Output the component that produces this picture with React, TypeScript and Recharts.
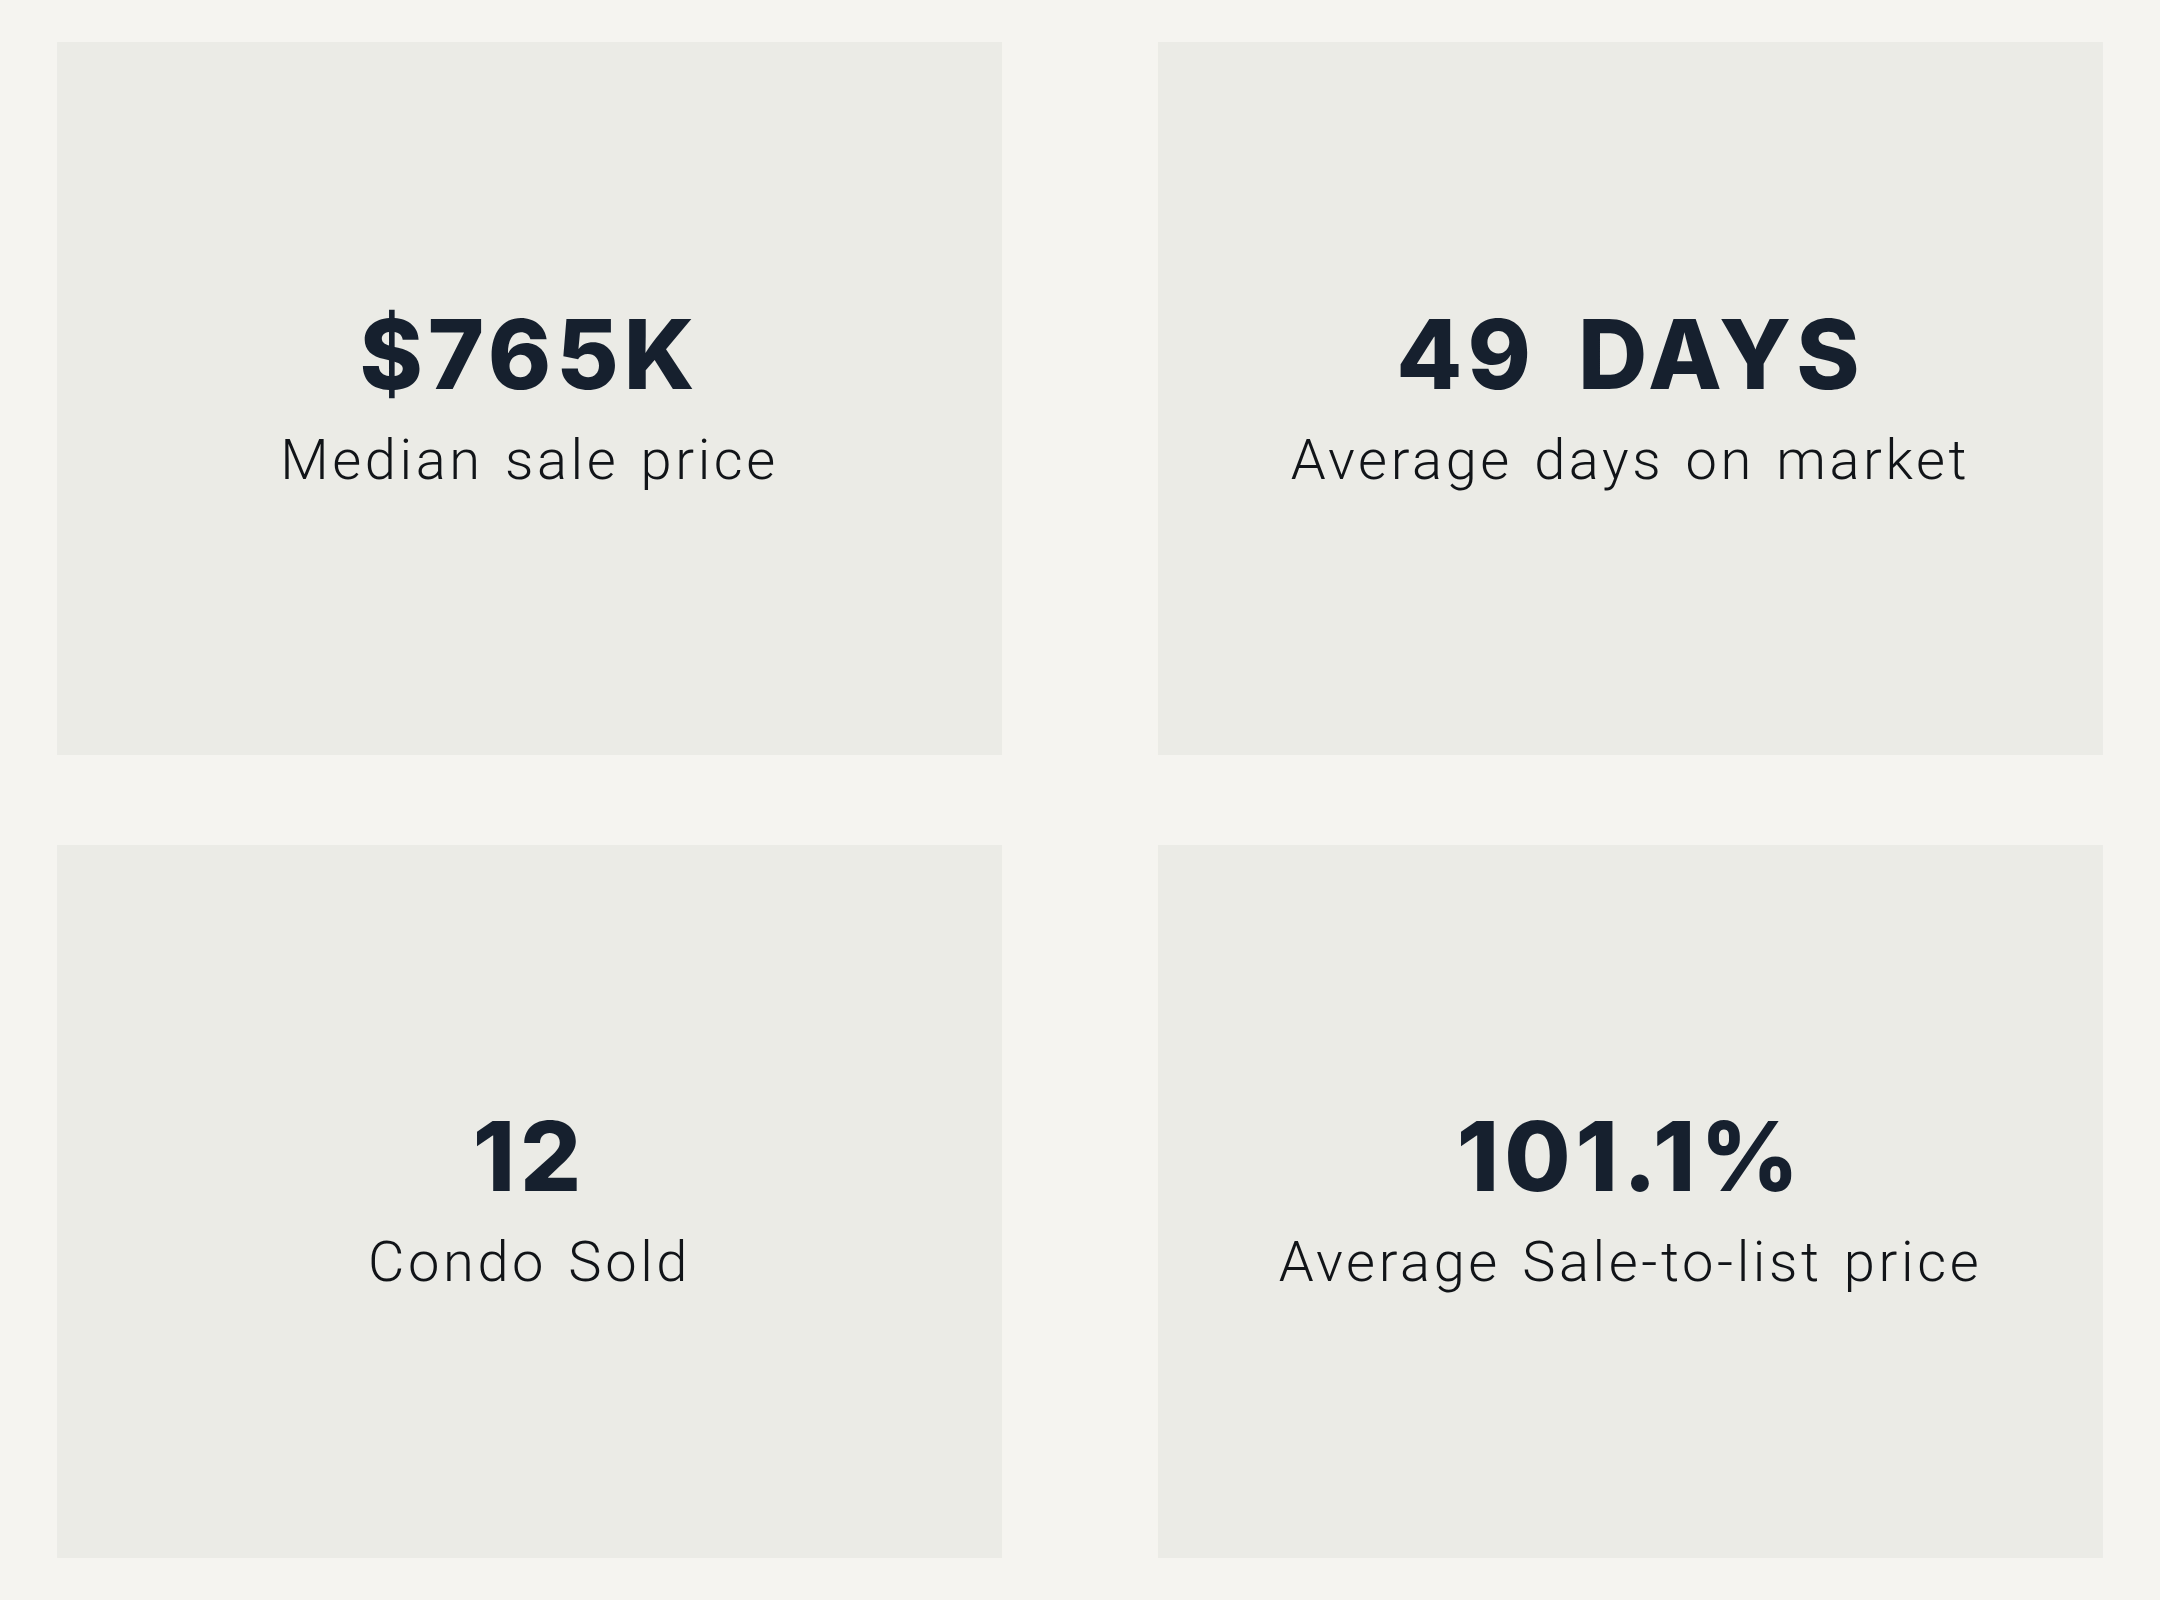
import React from "react";
import { ScatterChart, Scatter, XAxis, YAxis } from "recharts";

const values = ["$765K", "49 DAYS", "12", "101.1%"];
const labels = ["Median sale price", "Average days on market", "Condo Sold", "Average Sale-to-list price"];
const cols = [0, 1, 0, 1];
const rows = [0, 0, 1, 1];

const data = values.map((v, i) => ({ col: cols[i], row: rows[i], value: v, label: labels[i] }));

const CARD_W = 945;
const CARD_H = 713;

const Card = (props: any) => {
  const { cx, cy, payload } = props;
  if (cx == null || cy == null) return null;
  return (
    <g>
      <rect x={cx - CARD_W / 2} y={cy - CARD_H / 2} width={CARD_W} height={CARD_H} fill="#ebebe6" />
      <text
        x={cx}
        y={cy - 10}
        textAnchor="middle"
        fill="#16202e"
        style={{
          fontFamily: "Inter",
          fontWeight: 800,
          fontSize: 96,
          letterSpacing: 5,
          wordSpacing: 16,
          fontFeatureSettings: '"pnum" 1',
        }}
      >
        {payload.value}
      </text>
      <text
        x={cx}
        y={cy + 80}
        textAnchor="middle"
        fill="#111418"
        style={{ fontFamily: "Roboto", fontWeight: 300, fontSize: 56, letterSpacing: 3.6, wordSpacing: 4 }}
      >
        {payload.label}
      </text>
    </g>
  );
};

export default function App() {
  return (
    <div style={{ width: 2160, height: 1600, background: "#f5f4f0" }}>
      <style>{`body{margin:0;background:#f5f4f0}`}</style>
      <ScatterChart width={2160} height={1600} margin={{ top: 0, right: 0, bottom: 0, left: 0 }}>
        <XAxis hide type="number" dataKey="col" domain={[-0.481, 1.481]} />
        <YAxis hide type="number" dataKey="row" domain={[-0.4963, 1.4963]} reversed />
        <Scatter data={data} shape={Card} isAnimationActive={false} />
      </ScatterChart>
    </div>
  );
}
